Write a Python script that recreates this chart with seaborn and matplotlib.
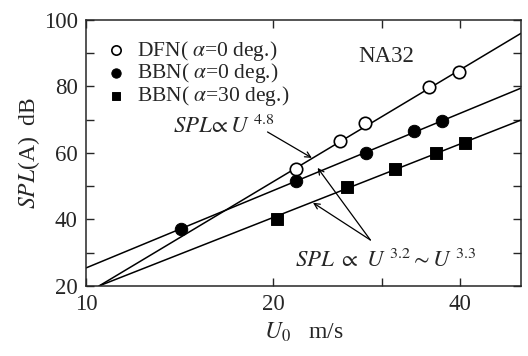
import seaborn as sns
import matplotlib.pyplot as plt
import pandas as pd

# data
dfn_u = [21.8, 25.6, 28.1, 35.7, 39.9]
dfn_spl = [55.1, 63.5, 69.1, 79.8, 84.2]

bbn0_u = [14.2, 21.8, 28.2, 33.7, 37.4]
bbn0_spl = [37.1, 51.5, 59.9, 66.5, 69.7]

bbn30_u = [20.3, 26.3, 31.5, 36.6, 40.8]
bbn30_spl = [40.2, 49.7, 55.3, 59.9, 62.9]

# fitted lines (end points)
dfn_fit_u = [10.5, 50.2]
dfn_fit_spl = [20.0, 96.0]
bbn0_fit_u = [10.0, 50.2]
bbn0_fit_spl = [25.4, 79.5]
bbn30_fit_u = [10.5, 50.2]
bbn30_fit_spl = [20.0, 69.9]

x_ticks = [10, 20, 30, 40]
x_tick_labels = ['10', '20', '', '40']
y_ticks = [20, 40, 60, 80, 100]

sns.set_style('ticks')
plt.rcParams['font.family'] = ['Liberation Serif', 'DejaVu Serif']
plt.rcParams['mathtext.fontset'] = 'stix'

fig = plt.figure(figsize=(5.28, 3.56), dpi=100)
ax = fig.add_axes([0.163, 0.197, 0.824, 0.747])

for fu, fs in [(dfn_fit_u, dfn_fit_spl), (bbn0_fit_u, bbn0_fit_spl), (bbn30_fit_u, bbn30_fit_spl)]:
    sns.lineplot(x=fu, y=fs, ax=ax, color='black', lw=1.1, zorder=1)

sns.scatterplot(x=dfn_u, y=dfn_spl, ax=ax, marker='o', s=80, facecolor='white',
                edgecolor='black', linewidth=1.2, zorder=3, label=r'DFN( $\alpha$=0 deg.)')
sns.scatterplot(x=bbn0_u, y=bbn0_spl, ax=ax, marker='o', s=80, color='black',
                edgecolor='black', zorder=3, label=r'BBN( $\alpha$=0 deg.)')
sns.scatterplot(x=bbn30_u, y=bbn30_spl, ax=ax, marker='s', s=70, color='black',
                edgecolor='black', zorder=3, label=r'BBN( $\alpha$=30 deg.)')

ax.set_xscale('log')
ax.set_xlim(10, 50.2)
ax.set_ylim(20, 100)
ax.set_xticks(x_ticks)
ax.set_xticklabels(x_tick_labels)
ax.xaxis.set_minor_locator(plt.NullLocator())
ax.set_yticks(y_ticks)
ax.set_yticks([30, 50, 70, 90], minor=True)
ax.tick_params(which='both', direction='in', top=True, right=True, labelsize=16.5)
ax.tick_params(axis='x', pad=6)
ax.tick_params(axis='y', pad=6)
ax.tick_params(which='both', length=6, width=1)
for s in ax.spines.values():
    s.set_linewidth(1.1)

ax.set_xlabel(r'$U_0$   m/s', fontsize=17, labelpad=4)
ax.set_ylabel(r'$SPL$(A)  dB', fontsize=17, labelpad=1)

ax.legend(loc='upper left', bbox_to_anchor=(0.044, 0.93), frameon=False, fontsize=15.5,
          handlelength=1.0, handletextpad=0.5, borderpad=0, borderaxespad=0,
          labelspacing=-0.05, markerscale=0.75)

ax.text(27.4, 87.4, 'NA32', fontsize=16.5, ha='left', va='baseline')

ax.text(13.8, 66.0, r'$SPL\!\propto U^{\ 4.8}$', fontsize=16.5, ha='left', va='baseline')
ax.annotate('', xy=(23.1, 58.5), xytext=(19.6, 66.3),
            arrowprops=dict(arrowstyle='->', color='black', lw=0.9, shrinkA=0, shrinkB=0))
ax.annotate('', xy=(23.6, 55.5), xytext=(28.7, 33.8),
            arrowprops=dict(arrowstyle='->', color='black', lw=0.9, shrinkA=0, shrinkB=0))
ax.annotate('', xy=(23.2, 45.0), xytext=(28.7, 33.8),
            arrowprops=dict(arrowstyle='->', color='black', lw=0.9, shrinkA=0, shrinkB=0))
ax.text(21.7, 25.7, r'$SPL\ \propto\ U^{\ 3.2}{\sim}U^{\ 3.3}$', fontsize=16.5,
        ha='left', va='baseline')

fig.savefig('out.png', dpi=100)
